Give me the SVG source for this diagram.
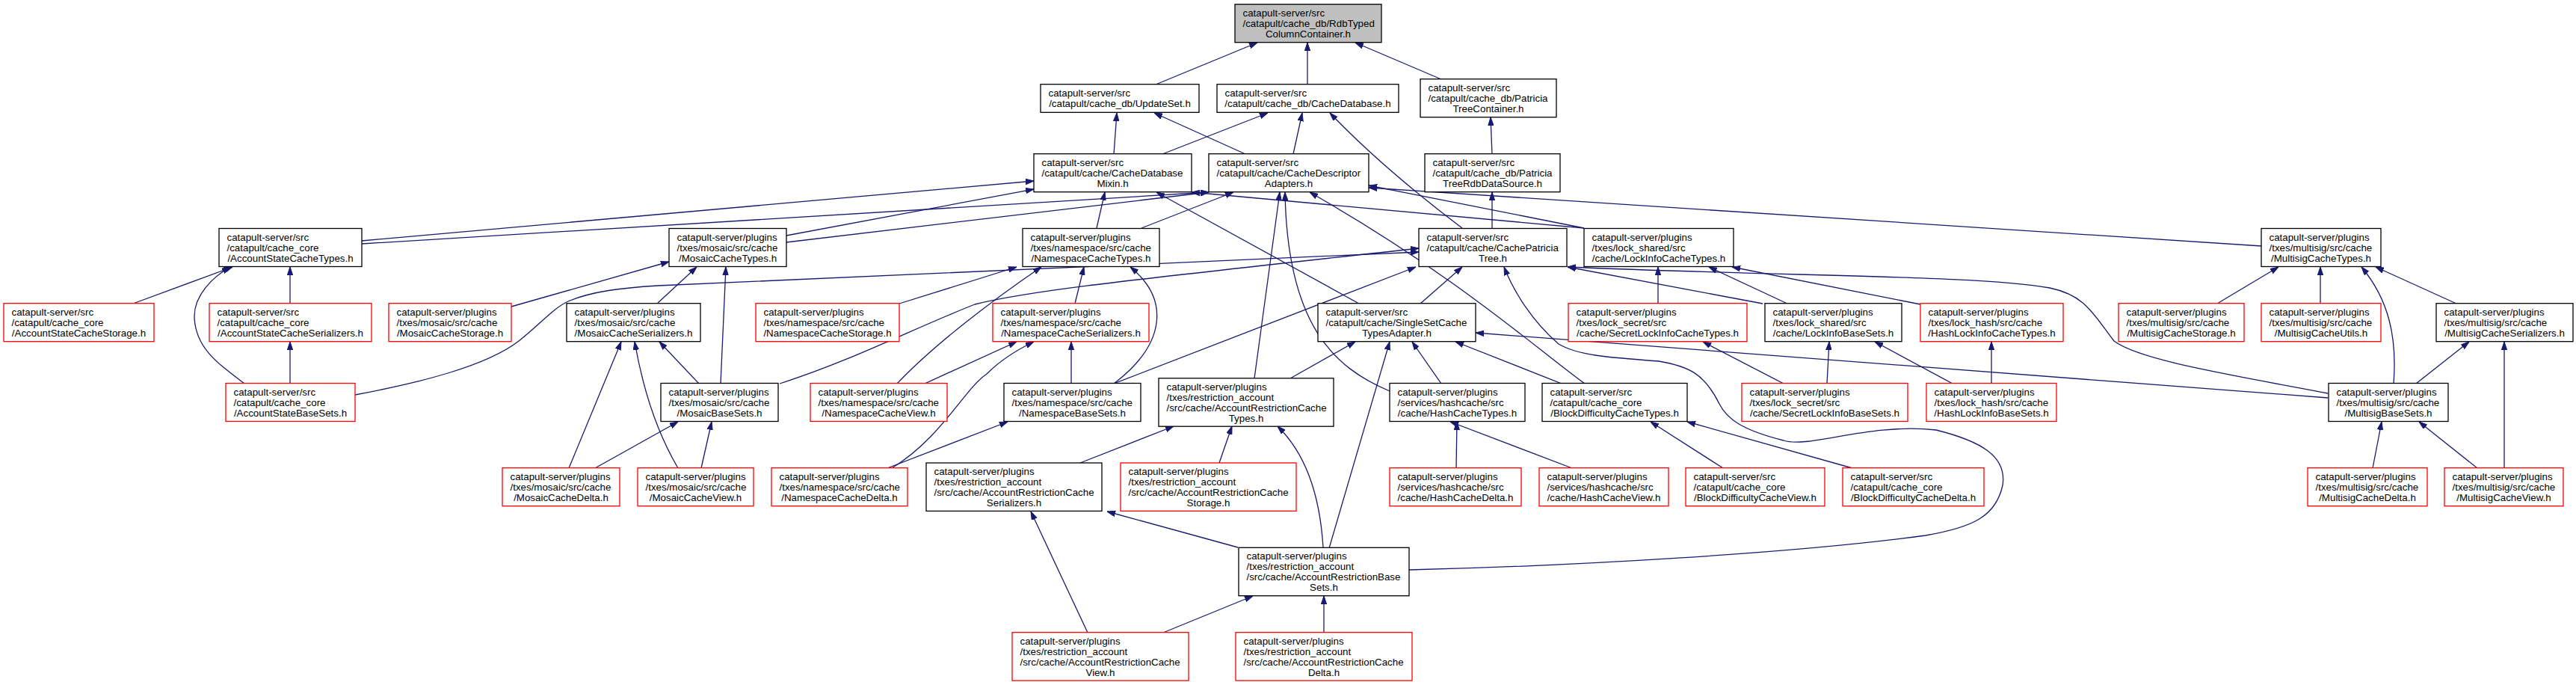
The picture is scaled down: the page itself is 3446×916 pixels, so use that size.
<svg xmlns="http://www.w3.org/2000/svg" width="3446" height="916" viewBox="0 0 3446 916">
<defs>
<style>
.n rect{fill:#ffffff;stroke:#000000;stroke-width:1.3}
.n.r rect{stroke:#ff0000}
.n.root rect{fill:#bfbfbf}
.n text{font-family:"Liberation Sans",Arial,Helvetica,sans-serif;font-size:13.33px;fill:#000000}
.n text.c{text-anchor:middle}
.e path{fill:none;stroke:#191970;stroke-width:1.3;marker-end:url(#a)}
</style>
<marker id="a" markerWidth="11" markerHeight="8" refX="11" refY="4" orient="auto" markerUnits="userSpaceOnUse">
<path d="M0,0.3 L11,4 L0,7.7 z" fill="#191970" stroke="#191970" stroke-width="1"/>
</marker>
</defs>
<rect width="3446" height="916" fill="#ffffff"/>
<g id="edges" class="e">
<path d="M1546,113 L1682,57"/>
<path d="M1749,113 L1749,57"/>
<path d="M1928,106 L1813,57"/>
<path d="M1490,206 L1494,151"/>
<path d="M1666,206 L1544,151"/>
<path d="M1555,206 L1696,151"/>
<path d="M1730,206 L1742,151"/>
<path d="M1956,305 Q1850,225 1779,151"/>
<path d="M1996,206 L1994,157"/>
<path d="M1996,305 L1996,257"/>
<path d="M484,322 L1383,242"/>
<path d="M484,326 L1617,257"/>
<path d="M1052,315 L1383,253"/>
<path d="M1052,324 L1617,257"/>
<path d="M1467,305 L1478,257"/>
<path d="M1527,305 L1650,257"/>
<path d="M2119,305 L1594,257"/>
<path d="M2119,305 L1831,248"/>
<path d="M3025,329 L1831,251"/>
<path d="M1818,406 L1547,257"/>
<path d="M1678,506 L1712,257"/>
<path d="M1859,523 C1785,492 1722,435 1719,257"/>
<path d="M2120,513 C2060,470 1950,370 1752,257"/>
<path d="M178,406 L311,357"/>
<path d="M388,406 L388,357"/>
<path d="M327,513 C290,485 262,465 260,425 C259,395 285,370 308,357"/>
<path d="M388,513 L388,457"/>
<path d="M475,528 C560,512 650,490 694,456 C720,436 740,412 760,403 C790,390 830,385 880,382 L1898,337"/>
<path d="M684,410 L895,350"/>
<path d="M879,406 L932,357"/>
<path d="M964,513 L971,357"/>
<path d="M935,513 L882,457"/>
<path d="M761,626 L831,457"/>
<path d="M907,626 C880,580 860,520 849,457"/>
<path d="M796,626 L907,564"/>
<path d="M938,626 L952,564"/>
<path d="M1043,513 C1140,482 1220,440 1304,407 C1380,388 1500,376 1898,332"/>
<path d="M1203,406 L1360,357"/>
<path d="M1438,406 L1450,357"/>
<path d="M1200,513 C1250,460 1330,400 1393,357"/>
<path d="M1490,513 C1560,460 1565,400 1512,357"/>
<path d="M1237,513 L1360,457"/>
<path d="M1193,626 C1260,585 1290,520 1320,500 C1340,480 1360,468 1383,457"/>
<path d="M1433,513 L1433,457"/>
<path d="M1187,626 L1348,564"/>
<path d="M1490,513 L1894,357"/>
<path d="M1900,406 L1956,357"/>
<path d="M2358,406 L2097,357"/>
<path d="M3114,526 C2960,497 2860,480 2828,456 C2800,420 2790,395 2742,385 C2650,368 2400,370 2097,357"/>
<path d="M1885,762 C2100,757 2400,740 2576,716 C2640,705 2670,690 2679,649 C2685,610 2650,590 2590,575 C2500,565 2420,600 2386,589 C2330,575 2310,560 2300,540 C2280,500 2260,490 2219,483 C2150,478 2110,475 2085,460 C2050,430 2025,390 2012,357"/>
<path d="M2218,406 L2218,357"/>
<path d="M2391,406 L2286,357"/>
<path d="M2569,407 L2317,357"/>
<path d="M2386,513 L2278,457"/>
<path d="M2444,513 L2447,457"/>
<path d="M2612,513 L2508,457"/>
<path d="M2664,513 L2664,457"/>
<path d="M1726,506 L1813,457"/>
<path d="M1778,733 L1859,457"/>
<path d="M1928,513 L1889,457"/>
<path d="M2089,513 L1947,457"/>
<path d="M3114,532 L1974,445"/>
<path d="M1948,626 L1949,564"/>
<path d="M2103,626 L1940,564"/>
<path d="M2305,626 L2208,564"/>
<path d="M2478,626 L2257,564"/>
<path d="M2966,406 L3048,357"/>
<path d="M3104,406 L3104,357"/>
<path d="M3202,513 C3207,450 3195,400 3159,357"/>
<path d="M3286,406 L3178,357"/>
<path d="M3232,513 L3303,457"/>
<path d="M3350,626 L3350,457"/>
<path d="M3174,626 L3186,564"/>
<path d="M3314,626 L3236,564"/>
<path d="M1445,619 L1570,570"/>
<path d="M1631,619 L1648,570"/>
<path d="M1770,732 C1765,650 1740,600 1709,570"/>
<path d="M1455,846 L1379,684"/>
<path d="M1656,732 L1481,684"/>
<path d="M1556,846 L1676,797"/>
<path d="M1771,846 L1771,797"/>
</g>
<g id="n0" class="n root"><rect x="1652" y="5.7" width="196" height="51"/><text x="1662.5" y="21.9">catapult-server/src</text><text x="1662.5" y="35.9">/catapult/cache_db/RdbTyped</text><text class="c" x="1750" y="49.9">ColumnContainer.h</text></g>
<g id="n1" class="n"><rect x="1392" y="112.7" width="212" height="37.6"/><text x="1402.5" y="129.2">catapult-server/src</text><text class="c" x="1498" y="143.2">/catapult/cache_db/UpdateSet.h</text></g>
<g id="n2" class="n"><rect x="1628" y="112.7" width="243" height="37.6"/><text x="1638.5" y="129.2">catapult-server/src</text><text class="c" x="1749.5" y="143.2">/catapult/cache_db/CacheDatabase.h</text></g>
<g id="n3" class="n"><rect x="1900" y="105.7" width="182" height="51"/><text x="1910.5" y="121.9">catapult-server/src</text><text x="1910.5" y="135.9">/catapult/cache_db/Patricia</text><text class="c" x="1991" y="149.9">TreeContainer.h</text></g>
<g id="n4" class="n"><rect x="1383" y="205.7" width="211" height="51"/><text x="1393.5" y="221.9">catapult-server/src</text><text x="1393.5" y="235.9">/catapult/cache/CacheDatabase</text><text class="c" x="1488.5" y="249.9">Mixin.h</text></g>
<g id="n5" class="n"><rect x="1617" y="205.7" width="214" height="51"/><text x="1627.5" y="221.9">catapult-server/src</text><text x="1627.5" y="235.9">/catapult/cache/CacheDescriptor</text><text class="c" x="1724" y="249.9">Adapters.h</text></g>
<g id="n6" class="n"><rect x="1906" y="205.7" width="181" height="51"/><text x="1916.5" y="221.9">catapult-server/src</text><text x="1916.5" y="235.9">/catapult/cache_db/Patricia</text><text class="c" x="1996.5" y="249.9">TreeRdbDataSource.h</text></g>
<g id="n7" class="n"><rect x="293" y="305.5" width="191" height="51"/><text x="303.5" y="321.7">catapult-server/src</text><text x="303.5" y="335.7">/catapult/cache_core</text><text class="c" x="388.5" y="349.7">/AccountStateCacheTypes.h</text></g>
<g id="n8" class="n"><rect x="895" y="305.5" width="157" height="51"/><text x="905.5" y="321.7">catapult-server/plugins</text><text x="905.5" y="335.7">/txes/mosaic/src/cache</text><text class="c" x="973.5" y="349.7">/MosaicCacheTypes.h</text></g>
<g id="n9" class="n"><rect x="1368" y="305.5" width="183" height="51"/><text x="1378.5" y="321.7">catapult-server/plugins</text><text x="1378.5" y="335.7">/txes/namespace/src/cache</text><text class="c" x="1459.5" y="349.7">/NamespaceCacheTypes.h</text></g>
<g id="n10" class="n"><rect x="1898" y="305.5" width="198" height="51"/><text x="1908.5" y="321.7">catapult-server/src</text><text x="1908.5" y="335.7">/catapult/cache/CachePatricia</text><text class="c" x="1997" y="349.7">Tree.h</text></g>
<g id="n11" class="n"><rect x="2119" y="305.5" width="200" height="51"/><text x="2129.5" y="321.7">catapult-server/plugins</text><text x="2129.5" y="335.7">/txes/lock_shared/src</text><text class="c" x="2219" y="349.7">/cache/LockInfoCacheTypes.h</text></g>
<g id="n12" class="n"><rect x="3025" y="305.5" width="160" height="51"/><text x="3035.5" y="321.7">catapult-server/plugins</text><text x="3035.5" y="335.7">/txes/multisig/src/cache</text><text class="c" x="3105" y="349.7">/MultisigCacheTypes.h</text></g>
<g id="n13" class="n r"><rect x="5" y="405.7" width="201" height="51"/><text x="15.5" y="421.9">catapult-server/src</text><text x="15.5" y="435.9">/catapult/cache_core</text><text class="c" x="105.5" y="449.9">/AccountStateCacheStorage.h</text></g>
<g id="n14" class="n r"><rect x="280" y="405.7" width="217" height="51"/><text x="290.5" y="421.9">catapult-server/src</text><text x="290.5" y="435.9">/catapult/cache_core</text><text class="c" x="388.5" y="449.9">/AccountStateCacheSerializers.h</text></g>
<g id="n15" class="n r"><rect x="520" y="405.7" width="164" height="51"/><text x="530.5" y="421.9">catapult-server/plugins</text><text x="530.5" y="435.9">/txes/mosaic/src/cache</text><text class="c" x="602" y="449.9">/MosaicCacheStorage.h</text></g>
<g id="n16" class="n"><rect x="758" y="405.7" width="179" height="51"/><text x="768.5" y="421.9">catapult-server/plugins</text><text x="768.5" y="435.9">/txes/mosaic/src/cache</text><text class="c" x="847.5" y="449.9">/MosaicCacheSerializers.h</text></g>
<g id="n17" class="n r"><rect x="1011" y="405.7" width="192" height="51"/><text x="1021.5" y="421.9">catapult-server/plugins</text><text x="1021.5" y="435.9">/txes/namespace/src/cache</text><text class="c" x="1107" y="449.9">/NamespaceCacheStorage.h</text></g>
<g id="n18" class="n r"><rect x="1328" y="405.7" width="209" height="51"/><text x="1338.5" y="421.9">catapult-server/plugins</text><text x="1338.5" y="435.9">/txes/namespace/src/cache</text><text class="c" x="1432.5" y="449.9">/NamespaceCacheSerializers.h</text></g>
<g id="n19" class="n"><rect x="1763" y="405.7" width="211" height="51"/><text x="1773.5" y="421.9">catapult-server/src</text><text x="1773.5" y="435.9">/catapult/cache/SingleSetCache</text><text class="c" x="1868.5" y="449.9">TypesAdapter.h</text></g>
<g id="n20" class="n r"><rect x="2098" y="405.7" width="239" height="51"/><text x="2108.5" y="421.9">catapult-server/plugins</text><text x="2108.5" y="435.9">/txes/lock_secret/src</text><text class="c" x="2217.5" y="449.9">/cache/SecretLockInfoCacheTypes.h</text></g>
<g id="n21" class="n"><rect x="2361" y="405.7" width="183" height="51"/><text x="2371.5" y="421.9">catapult-server/plugins</text><text x="2371.5" y="435.9">/txes/lock_shared/src</text><text class="c" x="2452.5" y="449.9">/cache/LockInfoBaseSets.h</text></g>
<g id="n22" class="n r"><rect x="2569" y="405.7" width="191" height="51"/><text x="2579.5" y="421.9">catapult-server/plugins</text><text x="2579.5" y="435.9">/txes/lock_hash/src/cache</text><text class="c" x="2664.5" y="449.9">/HashLockInfoCacheTypes.h</text></g>
<g id="n23" class="n r"><rect x="2834" y="405.7" width="168" height="51"/><text x="2844.5" y="421.9">catapult-server/plugins</text><text x="2844.5" y="435.9">/txes/multisig/src/cache</text><text class="c" x="2918" y="449.9">/MultisigCacheStorage.h</text></g>
<g id="n24" class="n r"><rect x="3025" y="405.7" width="160" height="51"/><text x="3035.5" y="421.9">catapult-server/plugins</text><text x="3035.5" y="435.9">/txes/multisig/src/cache</text><text class="c" x="3105" y="449.9">/MultisigCacheUtils.h</text></g>
<g id="n25" class="n"><rect x="3259" y="405.7" width="183" height="51"/><text x="3269.5" y="421.9">catapult-server/plugins</text><text x="3269.5" y="435.9">/txes/multisig/src/cache</text><text class="c" x="3350.5" y="449.9">/MultisigCacheSerializers.h</text></g>
<g id="n26" class="n r"><rect x="302" y="512.5" width="173" height="51"/><text x="312.5" y="528.7">catapult-server/src</text><text x="312.5" y="542.7">/catapult/cache_core</text><text class="c" x="388.5" y="556.7">/AccountStateBaseSets.h</text></g>
<g id="n27" class="n"><rect x="884" y="512.5" width="157" height="51"/><text x="894.5" y="528.7">catapult-server/plugins</text><text x="894.5" y="542.7">/txes/mosaic/src/cache</text><text class="c" x="962.5" y="556.7">/MosaicBaseSets.h</text></g>
<g id="n28" class="n r"><rect x="1084" y="512.5" width="183" height="51"/><text x="1094.5" y="528.7">catapult-server/plugins</text><text x="1094.5" y="542.7">/txes/namespace/src/cache</text><text class="c" x="1175.5" y="556.7">/NamespaceCacheView.h</text></g>
<g id="n29" class="n"><rect x="1343" y="512.5" width="183" height="51"/><text x="1353.5" y="528.7">catapult-server/plugins</text><text x="1353.5" y="542.7">/txes/namespace/src/cache</text><text class="c" x="1434.5" y="556.7">/NamespaceBaseSets.h</text></g>
<g id="n30" class="n"><rect x="1550" y="505.8" width="234" height="64.4"/><text x="1560.5" y="521.7">catapult-server/plugins</text><text x="1560.5" y="535.7">/txes/restriction_account</text><text x="1560.5" y="549.7">/src/cache/AccountRestrictionCache</text><text class="c" x="1667" y="563.7">Types.h</text></g>
<g id="n31" class="n"><rect x="1859" y="512.5" width="181" height="51"/><text x="1869.5" y="528.7">catapult-server/plugins</text><text x="1869.5" y="542.7">/services/hashcache/src</text><text class="c" x="1949.5" y="556.7">/cache/HashCacheTypes.h</text></g>
<g id="n32" class="n"><rect x="2063" y="512.5" width="194" height="51"/><text x="2073.5" y="528.7">catapult-server/src</text><text x="2073.5" y="542.7">/catapult/cache_core</text><text class="c" x="2160" y="556.7">/BlockDifficultyCacheTypes.h</text></g>
<g id="n33" class="n r"><rect x="2330" y="512.5" width="222" height="51"/><text x="2340.5" y="528.7">catapult-server/plugins</text><text x="2340.5" y="542.7">/txes/lock_secret/src</text><text class="c" x="2441" y="556.7">/cache/SecretLockInfoBaseSets.h</text></g>
<g id="n34" class="n r"><rect x="2577" y="512.5" width="174" height="51"/><text x="2587.5" y="528.7">catapult-server/plugins</text><text x="2587.5" y="542.7">/txes/lock_hash/src/cache</text><text class="c" x="2664" y="556.7">/HashLockInfoBaseSets.h</text></g>
<g id="n35" class="n"><rect x="3115" y="512.5" width="160" height="51"/><text x="3125.5" y="528.7">catapult-server/plugins</text><text x="3125.5" y="542.7">/txes/multisig/src/cache</text><text class="c" x="3195" y="556.7">/MultisigBaseSets.h</text></g>
<g id="n36" class="n r"><rect x="672" y="625.7" width="157" height="51"/><text x="682.5" y="641.9">catapult-server/plugins</text><text x="682.5" y="655.9">/txes/mosaic/src/cache</text><text class="c" x="750.5" y="669.9">/MosaicCacheDelta.h</text></g>
<g id="n37" class="n r"><rect x="853" y="625.7" width="155" height="51"/><text x="863.5" y="641.9">catapult-server/plugins</text><text x="863.5" y="655.9">/txes/mosaic/src/cache</text><text class="c" x="930.5" y="669.9">/MosaicCacheView.h</text></g>
<g id="n38" class="n r"><rect x="1032" y="625.7" width="182" height="51"/><text x="1042.5" y="641.9">catapult-server/plugins</text><text x="1042.5" y="655.9">/txes/namespace/src/cache</text><text class="c" x="1123" y="669.9">/NamespaceCacheDelta.h</text></g>
<g id="n39" class="n"><rect x="1239" y="619" width="235" height="64.4"/><text x="1249.5" y="634.9">catapult-server/plugins</text><text x="1249.5" y="648.9">/txes/restriction_account</text><text x="1249.5" y="662.9">/src/cache/AccountRestrictionCache</text><text class="c" x="1356.5" y="676.9">Serializers.h</text></g>
<g id="n40" class="n r"><rect x="1499" y="619" width="235" height="64.4"/><text x="1509.5" y="634.9">catapult-server/plugins</text><text x="1509.5" y="648.9">/txes/restriction_account</text><text x="1509.5" y="662.9">/src/cache/AccountRestrictionCache</text><text class="c" x="1616.5" y="676.9">Storage.h</text></g>
<g id="n41" class="n r"><rect x="1859" y="625.7" width="176" height="51"/><text x="1869.5" y="641.9">catapult-server/plugins</text><text x="1869.5" y="655.9">/services/hashcache/src</text><text class="c" x="1947" y="669.9">/cache/HashCacheDelta.h</text></g>
<g id="n42" class="n r"><rect x="2059" y="625.7" width="173" height="51"/><text x="2069.5" y="641.9">catapult-server/plugins</text><text x="2069.5" y="655.9">/services/hashcache/src</text><text class="c" x="2145.5" y="669.9">/cache/HashCacheView.h</text></g>
<g id="n43" class="n r"><rect x="2255" y="625.7" width="186" height="51"/><text x="2265.5" y="641.9">catapult-server/src</text><text x="2265.5" y="655.9">/catapult/cache_core</text><text class="c" x="2348" y="669.9">/BlockDifficultyCacheView.h</text></g>
<g id="n44" class="n r"><rect x="2465" y="625.7" width="189" height="51"/><text x="2475.5" y="641.9">catapult-server/src</text><text x="2475.5" y="655.9">/catapult/cache_core</text><text class="c" x="2559.5" y="669.9">/BlockDifficultyCacheDelta.h</text></g>
<g id="n45" class="n r"><rect x="3087" y="625.7" width="160" height="51"/><text x="3097.5" y="641.9">catapult-server/plugins</text><text x="3097.5" y="655.9">/txes/multisig/src/cache</text><text class="c" x="3167" y="669.9">/MultisigCacheDelta.h</text></g>
<g id="n46" class="n r"><rect x="3270" y="625.7" width="159" height="51"/><text x="3280.5" y="641.9">catapult-server/plugins</text><text x="3280.5" y="655.9">/txes/multisig/src/cache</text><text class="c" x="3349.5" y="669.9">/MultisigCacheView.h</text></g>
<g id="n47" class="n"><rect x="1657" y="732.3" width="228" height="64.4"/><text x="1667.5" y="748.2">catapult-server/plugins</text><text x="1667.5" y="762.2">/txes/restriction_account</text><text x="1667.5" y="776.2">/src/cache/AccountRestrictionBase</text><text class="c" x="1771" y="790.2">Sets.h</text></g>
<g id="n48" class="n r"><rect x="1354" y="845.7" width="236" height="64.4"/><text x="1364.5" y="861.6">catapult-server/plugins</text><text x="1364.5" y="875.6">/txes/restriction_account</text><text x="1364.5" y="889.6">/src/cache/AccountRestrictionCache</text><text class="c" x="1472" y="903.6">View.h</text></g>
<g id="n49" class="n r"><rect x="1653" y="845.7" width="236" height="64.4"/><text x="1663.5" y="861.6">catapult-server/plugins</text><text x="1663.5" y="875.6">/txes/restriction_account</text><text x="1663.5" y="889.6">/src/cache/AccountRestrictionCache</text><text class="c" x="1771" y="903.6">Delta.h</text></g>
</svg>
